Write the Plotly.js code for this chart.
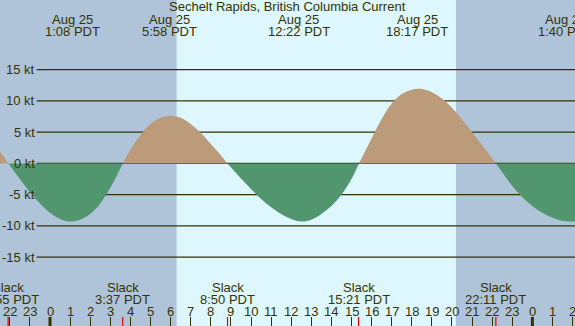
<!DOCTYPE html>
<html>
<head>
<meta charset="utf-8">
<script src="https://cdn.plot.ly/plotly-3.0.1.min.js"></script>
<style>html,body{margin:0;padding:0;background:#fff;}#chart{width:575px;height:326px;}</style>
</head>
<body>
<div id="chart"></div>
<script>
// ---- data ----
const chartTitle = "Sechelt Rapids, British Columbia Current";
// hours relative to midnight starting Aug 25 (PDT)
const timeH = [-2.49, -2.07,
  -1.5, -1.0, -0.5, 0, 0.5, 1.0, 1.5, 2.0, 2.5, 3.0, 3.62,
  4.0, 4.5, 5.0, 5.5, 6.0, 6.5, 7.0, 7.5, 8.0, 8.5, 8.82,
  9.0, 9.5, 10.0, 10.5, 11.0, 11.5, 12.0, 12.5, 13.0, 13.5, 14.0, 14.5, 15.0, 15.37,
  16.0, 16.5, 17.0, 17.5, 18.0, 18.5, 19.0, 19.5, 20.0, 20.5, 21.0, 21.5, 22.0, 22.19,
  22.5, 23.0, 23.5, 24.0, 24.5, 25.0, 25.5, 26.0, 26.12];
const knots = [1.9, 0,
  -2.5, -4.6, -6.4, -7.9, -8.9, -9.3, -9.0, -8.1, -6.4, -3.9, 0,
  2.2, 4.5, 6.3, 7.3, 7.6, 7.3, 6.3, 4.9, 3.1, 1.3, 0,
  -0.6, -2.4, -4.1, -5.7, -7.0, -8.1, -8.9, -9.3, -9.0, -8.1, -6.8, -5.0, -2.5, 0,
  4.0, 7.1, 9.6, 11.1, 11.8, 11.9, 11.4, 10.4, 8.9, 7.0, 5.0, 2.9, 0.8, 0,
  -1.4, -3.6, -5.4, -6.8, -7.9, -8.7, -9.2, -9.3, -9.3];
const gridKnots = [15, 10, 5, 0, -5, -10, -15];
const gridLabels = ["15 kt", "10 kt", "5 kt", "0 kt", "-5 kt", "-10 kt", "-15 kt"];
const hourTicks = [-2, -1, 0, 1, 2, 3, 4, 5, 6, 7, 8, 9, 10, 11, 12, 13, 14, 15, 16, 17, 18, 19, 20, 21, 22, 23, 24, 25, 26];
const hourLabels = ["22", "23", "0", "1", "2", "3", "4", "5", "6", "7", "8", "9", "10", "11", "12", "13", "14", "15", "16", "17", "18", "19", "20", "21", "22", "23", "0", "1", "2"];
const midnights = [0, 24];
const peakTimes = [1.133, 5.967, 12.367, 18.283, 25.667];
const peakDates = ["Aug 25", "Aug 25", "Aug 25", "Aug 25", "Aug 26"];
const peakLabels = ["1:08 PDT", "5:58 PDT", "12:22 PDT", "18:17 PDT", "1:40 PDT"];
const slackTimes = [-2.083, 3.617, 8.833, 15.35, 22.183];
const slackLabels = ["21:55 PDT", "3:37 PDT", "8:50 PDT", "15:21 PDT", "22:11 PDT"];
const sunrise = 6.3, sunset = 20.2;

// ---- styles ----
const W = 575, H = 326;
const xRange = [-2.488, 26.12];
const yRange = [-26.02, 26.14];
const txt = "rgb(51,51,0)";
const nightCol = "rgb(175,195,217)";
const dayCol = "rgb(222,246,254)";
const floodCol = "rgb(188,155,122)";
const ebbCol = "rgb(82,150,112)";
const font = {family: "Liberation Sans, Arial, sans-serif", size: 13, color: txt};
const py = p => 1 - p / H;

// split series into lobes at zero crossings
const traces = [];
let seg = {x: [], y: []};
for (let i = 0; i < timeH.length; i++) {
  seg.x.push(timeH[i]); seg.y.push(knots[i]);
  if ((knots[i] === 0 && seg.x.length > 1) || i === timeH.length - 1) {
    const pos = seg.y.some(v => v > 0);
    traces.push({x: seg.x, y: seg.y, type: "scatter", mode: "lines",
      line: {width: 0, shape: "spline", smoothing: 1},
      fill: "tozeroy", fillcolor: pos ? floodCol : ebbCol, hoverinfo: "skip", showlegend: false});
    seg = {x: [timeH[i]], y: [knots[i]]};
  }
}

const shapes = [];
shapes.push({type: "rect", xref: "x", yref: "paper", x0: xRange[0], x1: sunrise, y0: 0, y1: 1, fillcolor: nightCol, line: {width: 0}, layer: "below"});
shapes.push({type: "rect", xref: "x", yref: "paper", x0: sunset, x1: xRange[1], y0: 0, y1: 1, fillcolor: nightCol, line: {width: 0}, layer: "below"});
gridKnots.forEach(v => shapes.push({type: "line", xref: "paper", yref: "y", x0: 36.7 / W, x1: 1, y0: v, y1: v, line: {color: txt, width: 1.2}, layer: "below"}));
midnights.forEach(t => shapes.push({type: "line", xref: "x", yref: "paper", x0: t, x1: t, y0: 0, y1: 9 / H, line: {color: txt, width: 3}}));
slackTimes.forEach(t => shapes.push({type: "line", xref: "x", yref: "paper", x0: t, x1: t, y0: 0, y1: 9 / H, line: {color: "rgb(230,0,0)", width: 1.2}}));

const ann = [];
const A = (x, xref, y, text, extra) => Object.assign({x, xref, y, yref: "paper", text, showarrow: false, font, xanchor: "center", yanchor: "middle", borderpad: 0}, extra || {});
ann.push(A(0.5, "paper", py(7), chartTitle));
peakTimes.forEach((t, i) => {
  ann.push(A(t, "x", py(20), peakDates[i]));
  ann.push(A(t, "x", py(31.5), peakLabels[i]));
});
slackTimes.forEach((t, i) => {
  ann.push(A(t, "x", py(287.5), "Slack"));
  ann.push(A(t, "x", py(299.5), slackLabels[i]));
});
hourTicks.forEach((t, i) => ann.push(A(t, "x", py(311), hourLabels[i])));
gridKnots.forEach((v, i) => ann.push({x: 35.5 / W, xref: "paper", y: v, yref: "y", text: gridLabels[i], showarrow: false, font, xanchor: "right", yanchor: "middle", borderpad: 0}));

const layout = {
  width: W, height: H, margin: {l: 0, r: 0, t: 0, b: 0, pad: 0},
  paper_bgcolor: dayCol, plot_bgcolor: dayCol,
  showlegend: false,
  xaxis: {range: xRange, showgrid: false, zeroline: false, showline: false,
    tickmode: "array", tickvals: hourTicks, ticks: "inside", ticklen: 9, tickwidth: 1, tickcolor: txt,
    showticklabels: false, fixedrange: true},
  yaxis: {range: yRange, showgrid: false, zeroline: false, showline: false, showticklabels: false, ticks: "", fixedrange: true},
  shapes, annotations: ann
};
Plotly.newPlot("chart", traces, layout, {staticPlot: true, displayModeBar: false});
</script>
</body>
</html>
